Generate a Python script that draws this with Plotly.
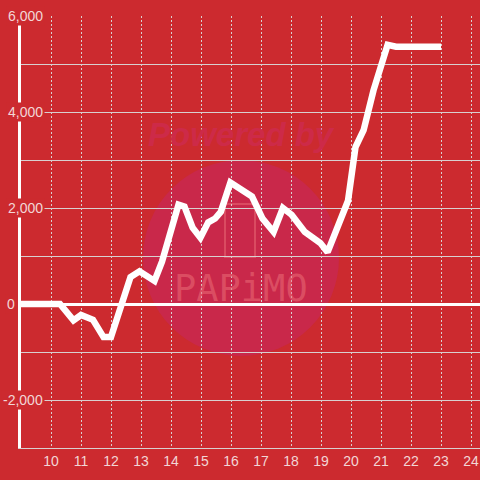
import plotly.graph_objects as go

hours = [9, 10, 10.3, 10.75, 11, 11.4, 11.75, 12, 12.65, 12.95, 13.45, 13.7, 14.25, 14.45,
         14.72, 14.98, 15.24, 15.47, 15.66, 15.98, 16.3, 16.7, 17.05, 17.42, 17.73, 18.02,
         18.46, 18.98, 19.22, 19.55, 19.9, 20.15, 20.42, 20.75, 21.22, 21.5, 23]
values = [0, 0, 0, -340, -230, -330, -690, -690, 560, 680, 480, 880, 2070, 2030,
          1590, 1380, 1700, 1780, 1920, 2530, 2400, 2240, 1780, 1500, 2000, 1860,
          1500, 1270, 1080, 1580, 2150, 3270, 3620, 4450, 5400, 5360, 5360]

y_labels = [6000, 4000, 2000, 0, -2000]
x_ticks = list(range(10, 25))

bg = '#cc2a2f'
txt = '#f2d6d6'
grid = '#d8d0d0'

fig = go.Figure()

fig.add_trace(go.Scatter(x=hours, y=values, mode='lines',
                         line=dict(color='white', width=6.5), hoverinfo='skip'))

# watermark
fig.add_shape(type='circle', xref='paper', yref='paper', layer='below',
              x0=(143 - 21) / 459, x1=(339 - 21) / 459,
              y0=(448 - 356) / 432, y1=(448 - 160) / 432,
              fillcolor='#c9284a', line=dict(width=0))
fig.add_shape(type='rect', xref='paper', yref='paper', layer='below',
              x0=(225 - 21) / 459, x1=(255 - 21) / 459,
              y0=(448 - 257) / 432, y1=(448 - 204) / 432,
              line=dict(color='rgba(235,110,120,0.5)', width=2))
fig.add_annotation(text='<b><i>Powered by</i></b>', xref='paper', yref='paper',
                   x=(241 - 21) / 459, y=(448 - 134) / 432, yanchor='middle', showarrow=False,
                   font=dict(size=33, color='#cd2a48', family='Liberation Sans'))
fig.add_annotation(text='PAPiMO', xref='paper', yref='paper',
                   x=(241 - 21) / 459, y=(448 - 288) / 432, showarrow=False,
                   font=dict(size=37, color='rgba(235,110,120,0.55)', family='DejaVu Sans Mono'))

# y labels with background over the axis line
for v in y_labels:
    right = 17 if v == 0 else 45
    fig.add_annotation(text=f'{v:,}', xref='paper', yref='y', x=(right - 21) / 459, y=v,
                       xanchor='right', showarrow=False, bgcolor=bg, borderpad=1,
                       font=dict(size=14, color=txt, family='Liberation Sans'))

fig.update_layout(
    width=480, height=480,
    margin=dict(l=21, r=0, t=16, b=32, autoexpand=False),
    paper_bgcolor=bg, plot_bgcolor=bg,
    showlegend=False,
    xaxis=dict(range=[9, 24.3], tickvals=x_ticks, showgrid=True, gridcolor=grid,
               griddash='2px,2px', gridwidth=1, zeroline=False, showline=True, automargin=False,
               linecolor=grid, linewidth=1, ticks='',
               tickfont=dict(size=14, color=txt, family='Liberation Sans')),
    yaxis=dict(range=[-3000, 6000], dtick=1000, showgrid=True, gridcolor=grid, gridwidth=1,
               showticklabels=False, zeroline=True, zerolinecolor='white', zerolinewidth=3,
               automargin=False, showline=True, linecolor='white', linewidth=3),
)

fig.write_html("out.html", config={'displayModeBar': False},
               post_script="document.body.style.margin='0';document.body.style.overflow='hidden';")
